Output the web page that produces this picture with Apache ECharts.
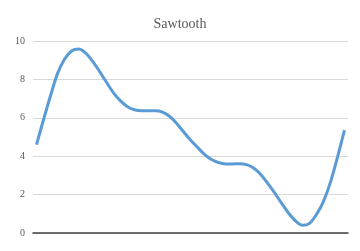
<!DOCTYPE html>
<html><head><meta charset="utf-8">
<script src="https://cdn.jsdelivr.net/npm/echarts@6/dist/echarts.min.js"></script>
<style>html,body{margin:0;padding:0;background:#fff}#c{width:360px;height:251px}</style>
</head><body><div id="c"></div>
<script>
var titleText = "Sawtooth";
var yTicks = [0, 2, 4, 6, 8, 10];
var values = [4.6, 5.9, 7.15, 8.3, 9.05, 9.48, 9.58, 9.38, 8.95, 8.42, 7.85, 7.3, 6.88, 6.58, 6.42, 6.37, 6.37, 6.37, 6.3, 6.08, 5.72, 5.27, 4.84, 4.46, 4.1, 3.83, 3.67, 3.6, 3.6, 3.61, 3.56, 3.38, 3.06, 2.6, 2.1, 1.56, 1.04, 0.63, 0.4, 0.5, 0.97, 1.65, 2.65, 3.95, 5.36];
var categories = values.map(function(v, i){ return String(i + 1); });

var chart = echarts.init(document.getElementById('c'), null, {renderer: 'canvas'});
chart.setOption({
  animation: false,
  title: {
    text: titleText, left: 'center', top: 12,
    textStyle: {fontFamily: 'Liberation Serif', fontSize: 14, fontWeight: 'normal', color: '#595959'}
  },
  grid: {left: 33, right: 12, top: 41, bottom: 18, containLabel: false},
  xAxis: {
    type: 'category', data: categories, boundaryGap: true,
    axisLine: {lineStyle: {color: '#404040', width: 1.5}},
    axisTick: {show: false}, axisLabel: {show: false}, splitLine: {show: false}
  },
  yAxis: {
    type: 'value', min: yTicks[0], max: yTicks[yTicks.length - 1], interval: 2,
    axisLine: {show: false}, axisTick: {show: false},
    axisLabel: {fontFamily: 'Liberation Serif', fontSize: 10, color: '#595959', margin: 8},
    splitLine: {lineStyle: {color: '#d9d9d9', width: 1}}
  },
  series: [{
    type: 'line', data: values, smooth: 0.3, symbol: 'none',
    lineStyle: {color: '#5b9bd5', width: 3}
  }]
});
</script></body></html>
